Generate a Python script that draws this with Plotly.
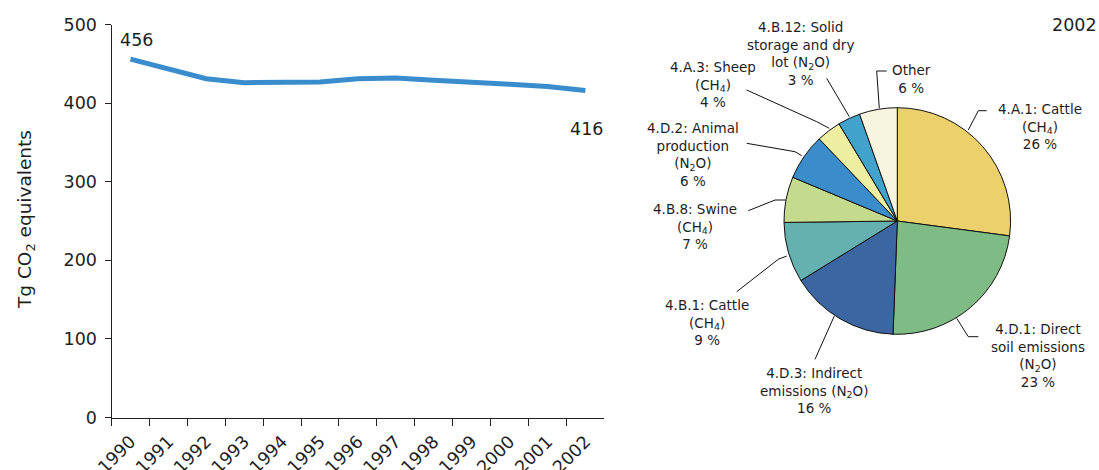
import plotly.graph_objects as go

# ---------------- data ----------------
years = ["1990", "1991", "1992", "1993", "1994", "1995", "1996",
         "1997", "1998", "1999", "2000", "2001", "2002"]
emissions = [456, 443, 431, 426, 427, 427, 431, 432, 429, 427, 424, 421, 416]

pie_names = ["4.A.1: Cattle<br>(CH<sub>4</sub>)",
             "4.D.1: Direct<br>soil emissions<br>(N<sub>2</sub>O)",
             "4.D.3: Indirect<br>emissions (N<sub>2</sub>O)",
             "4.B.1: Cattle<br>(CH<sub>4</sub>)",
             "4.B.8: Swine<br>(CH<sub>4</sub>)",
             "4.D.2: Animal<br>production<br>(N<sub>2</sub>O)",
             "4.A.3: Sheep<br>(CH<sub>4</sub>)",
             "4.B.12: Solid<br>storage and dry<br>lot (N<sub>2</sub>O)",
             "Other"]
pie_values = [27.1, 23.5, 15.6, 8.6, 6.5, 6.6, 3.5, 3.2, 5.4]
pie_pct_labels = [26, 23, 16, 9, 7, 6, 4, 3, 6]
pie_colors = ["#ECD06C", "#7FBB85", "#3C66A2", "#64B1AF", "#C4DA8C",
              "#3A8CCB", "#EDEEA0", "#41A2CB", "#F7F5DF"]
pie_year = "2002"

# ---------------- layout helpers ----------------
W, H = 1099, 470
FONT = "DejaVu Sans"
TXT = "#1e1e1e"


def px(x, y):
    """screen pixel -> paper fraction"""
    return x / W, 1 - y / H


# label block centres (screen pixels) and leader lines (screen pixels)
label_pos = [(1040, 126.7), (1037.8, 355.2), (813.7, 390.2), (707.2, 322.8),
             (694.5, 226.8), (693, 154.6), (712.5, 84.7), (800.8, 53.3),
             (911.7, 79.2)]
leaders = [
    [(968.3, 130), (978.3, 110.7), (986.7, 110.7)],
    [(956.7, 318.3), (968.3, 336.7), (978.3, 336.7)],
    [(834.3, 316), (815, 359.3)],
    [(786.7, 256), (778.3, 259.3), (736.7, 291.7)],
    [(785.7, 200), (775, 200), (748.3, 210.7)],
    [(801.7, 155.7), (795, 151.7), (746.7, 143.3)],
    [(829.3, 128.3), (816.7, 121.7), (746.7, 90)],
    [(849.3, 116.7), (826.7, 78.3)],
    [(879.3, 108.3), (876.7, 71), (886.7, 71)],
]

fig = go.Figure()

fig.add_trace(go.Scatter(
    x=years, y=emissions, mode="lines",
    line=dict(color="#3A8DCD", width=5),
    hoverinfo="skip", showlegend=False,
))

cx, cy, r = 897.3, 221, 113.3
dx0, dy1 = px(cx - r, cy - r)
dx1, dy0 = px(cx + r, cy + r)
fig.add_trace(go.Pie(
    values=pie_values, labels=[n.replace("<br>", " ") for n in pie_names],
    sort=False, direction="clockwise", rotation=0,
    marker=dict(colors=pie_colors, line=dict(color="#111111", width=1)),
    textinfo="none", hoverinfo="skip", showlegend=False,
    domain=dict(x=[dx0, dx1], y=[dy0, dy1]),
))

annotations = []
shapes = []
for name, pct, (lx, ly), pts in zip(pie_names, pie_pct_labels, label_pos, leaders):
    ax_, ay_ = px(lx, ly)
    annotations.append(dict(
        x=ax_, y=ay_, xref="paper", yref="paper", showarrow=False,
        text=f"{name}<br>{pct} %", align="center",
        xanchor="center", yanchor="middle",
        font=dict(family=FONT, size=13.5, color=TXT),
    ))
    path = ""
    for i, (x, y) in enumerate(pts):
        X, Y = px(x, y)
        path += ("M" if i == 0 else " L") + f" {X} {Y}"
    shapes.append(dict(type="path", path=path, xref="paper", yref="paper",
                       line=dict(color="#111111", width=1)))

# year label of pie
yx, yy = px(1074, 25)
annotations.append(dict(x=yx, y=yy, xref="paper", yref="paper",
                        showarrow=False, text=pie_year, xanchor="center",
                        yanchor="middle",
                        font=dict(family=FONT, size=17.5, color=TXT)))

# end value labels of the line (category axis -> index positions)
annotations.append(dict(x=0, y=emissions[0], xref="x", yref="y",
                        showarrow=False, text=str(emissions[0]),
                        xshift=6, yshift=19,
                        font=dict(family=FONT, size=17.5, color=TXT)))
annotations.append(dict(x=len(years) - 1, y=emissions[-1], xref="x", yref="y",
                        showarrow=False, text=str(emissions[-1]),
                        xshift=1.5, yshift=-38,
                        font=dict(family=FONT, size=17.5, color=TXT)))

# y-axis title
tx, ty = px(26, 220)
annotations.append(dict(x=tx, y=ty, xref="paper", yref="paper",
                        showarrow=False, textangle=-90,
                        text="Tg CO<sub>2</sub> equivalents",
                        xanchor="center", yanchor="middle",
                        font=dict(family=FONT, size=18.5, color=TXT)))

ax0, ay_bot = px(111.5, 417.5)
ax1, ay_top = px(604.3, 24.5)
fig.update_layout(
    width=W, height=H, autosize=False,
    margin=dict(l=0, r=0, t=0, b=0),
    paper_bgcolor="white", plot_bgcolor="white",
    template="none",
    font=dict(family=FONT, size=17.5, color=TXT),
    xaxis=dict(domain=[ax0, ax1], type="category",
               categoryorder="array", categoryarray=years,
               range=[-0.5, len(years) - 0.5],
               showline=True, linecolor="#222", linewidth=1,
               ticks="outside", tickson="boundaries", ticklen=7,
               tickcolor="#222", tickangle=-45, showgrid=False,
               zeroline=False, automargin=False, ticklabelstandoff=6,
               tickfont=dict(family=FONT, size=17.5, color=TXT)),
    yaxis=dict(domain=[ay_bot, ay_top], range=[0, 500],
               tickvals=[0, 100, 200, 300, 400, 500],
               showline=True, linecolor="#222", linewidth=1,
               ticks="outside", ticklen=6, tickcolor="#222",
               showgrid=False, zeroline=False, automargin=False,
               ticklabelstandoff=4,
               tickfont=dict(family=FONT, size=17.5, color=TXT)),
    annotations=annotations,
    shapes=shapes,
)

fig.write_html(
    "out.html",
    config={"displayModeBar": False},
    post_script="document.body.style.margin='0';"
                "document.body.style.overflow='hidden';",
)
